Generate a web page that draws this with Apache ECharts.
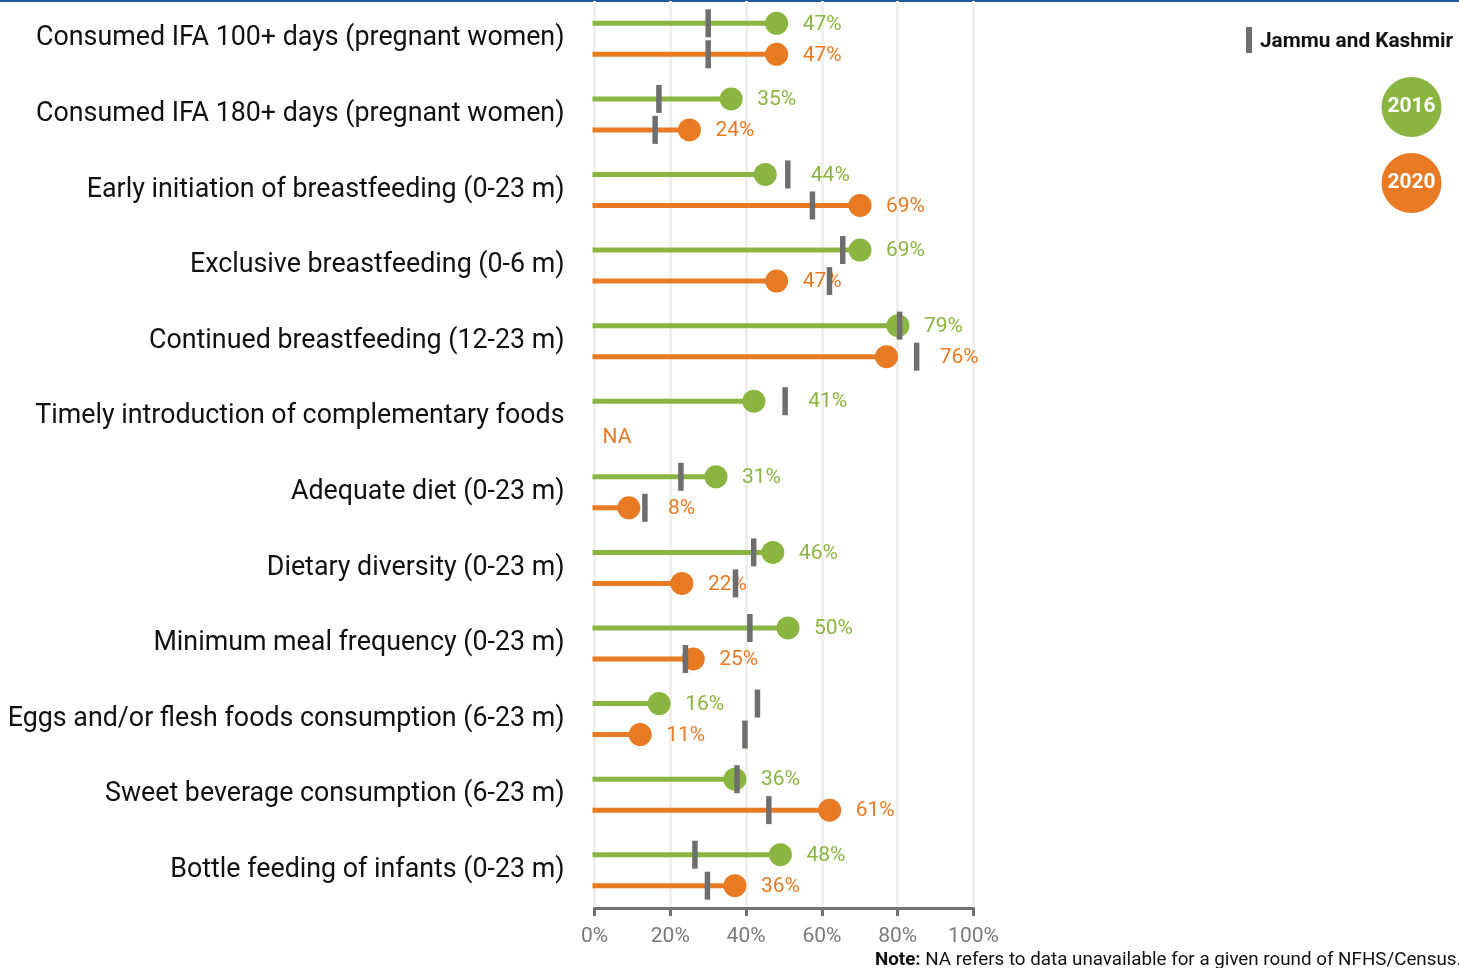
<!DOCTYPE html>
<html>
<head>
<meta charset="utf-8">
<script src="https://cdn.jsdelivr.net/npm/echarts@6/dist/echarts.min.js"></script>
<style>
  html, body { margin: 0; padding: 0; background: #fff; }
  #chart { width: 1459px; height: 968px; }
</style>
</head>
<body>
<div id="chart"></div>
<script>
const categories = [
  'Consumed IFA 100+ days (pregnant women)',
  'Consumed IFA 180+ days (pregnant women)',
  'Early initiation of breastfeeding (0-23 m)',
  'Exclusive breastfeeding (0-6 m)',
  'Continued breastfeeding (12-23 m)',
  'Timely introduction of complementary foods',
  'Adequate diet (0-23 m)',
  'Dietary diversity (0-23 m)',
  'Minimum meal frequency (0-23 m)',
  'Eggs and/or flesh foods consumption (6-23 m)',
  'Sweet beverage consumption (6-23 m)',
  'Bottle feeding of infants (0-23 m)'
]
const values2016 = [47, 35, 44, 69, 79, 41, 31, 46, 50, 16, 36, 48]
const values2020 = [47, 24, 69, 47, 76, null, 8, 22, 25, 11, 61, 36]
// Jammu and Kashmir markers
const state2016 = [30, 17, 51, 65.5, 80.5, 50.3, 22.8, 42, 41, 43, 37.6, 26.5]
const state2020 = [30, 16, 57.5, 62, 85, null, 13.3, 37.2, 24, 39.7, 46, 29.8]

const GREEN = '#8ab540'
const ORANGE = '#e87a24'
const GREY = '#6e6e6e'
const FONT = 'Roboto'
const DOT_SHIFT = 4 // circles sit a little right of the value in the original

function toData(arr) {
  return arr.map((v, i) => [v == null ? NaN : v, i])
}

function lollipop(color, dy, state) {
  return function (params, api) {
    const cat = api.value(1)
    const v = api.value(0)
    const base = api.coord([0, cat])
    if (isNaN(v)) {
      return {
        type: 'text',
        style: {
          x: base[0] + 8, y: base[1] + dy + 6, text: 'NA',
          fill: color, font: '21px ' + FONT,
          textAlign: 'left', textVerticalAlign: 'middle'
        }
      }
    }
    const p = api.coord([v, cat])
    const y = p[1] + dy
    const cx = p[0] + DOT_SHIFT
    // label goes past the state marker when the marker sits just right of the dot
    let lx = cx + 26
    const s = state[params.dataIndex]
    if (s != null) {
      const mx = api.coord([s, cat])[0]
      if (mx - cx > -5 && mx - cx < 40) lx = Math.max(lx, mx + 23)
    }
    return {
      type: 'group',
      children: [
        { type: 'rect', shape: { x: base[0] - 2, y: y - 2.5, width: cx - base[0] + 2, height: 5 }, style: { fill: color } },
        { type: 'circle', shape: { cx: cx, cy: y, r: 11.5 }, style: { fill: color } },
        {
          type: 'text',
          style: {
            x: lx, y: y + 1, text: v + '%',
            fill: color, font: '21px ' + FONT,
            textAlign: 'left', textVerticalAlign: 'middle'
          }
        }
      ]
    }
  }
}

function marker(dy) {
  return function (params, api) {
    const v = api.value(0)
    if (isNaN(v)) return null
    const p = api.coord([v, api.value(1)])
    return {
      type: 'rect',
      shape: { x: p[0] - 2.75, y: p[1] + dy - 14, width: 5.5, height: 28 },
      style: { fill: GREY }
    }
  }
}

const chart = echarts.init(document.getElementById('chart'))

chart.setOption({
  animation: false,
  grid: { left: 594.5, right: 485.5, top: 1, bottom: 60, containLabel: false },
  xAxis: {
    type: 'value',
    min: 0,
    max: 100,
    interval: 20,
    axisLine: { show: true, lineStyle: { color: '#707070', width: 3 } },
    axisTick: { show: true, length: 8, lineStyle: { color: '#707070', width: 3 } },
    axisLabel: { formatter: '{value}%', color: '#7a7a7a', fontSize: 21, fontFamily: FONT, margin: 18 },
    splitLine: { show: true, lineStyle: { color: '#f0efeb', width: 3 } }
  },
  yAxis: {
    type: 'category',
    inverse: true,
    data: categories,
    axisLine: { show: false },
    axisTick: { show: false },
    axisLabel: { color: '#111', fontSize: 26.8, fontFamily: FONT, margin: 30, padding: [6, 0, 0, 0] }
  },
  series: [
    { type: 'custom', name: '2016', data: toData(values2016), encode: { x: 0, y: 1 }, renderItem: lollipop(GREEN, -15.5, state2016), z: 2 },
    { type: 'custom', name: '2020', data: toData(values2020), encode: { x: 0, y: 1 }, renderItem: lollipop(ORANGE, 15.5, state2020), z: 2 },
    { type: 'custom', name: 'JK 2016', data: toData(state2016), encode: { x: 0, y: 1 }, renderItem: marker(-15.5), z: 3 },
    { type: 'custom', name: 'JK 2020', data: toData(state2020), encode: { x: 0, y: 1 }, renderItem: marker(15.5), z: 3 }
  ],
  graphic: [
    { type: 'rect', left: 0, top: 0, shape: { width: 1459, height: 2 }, style: { fill: '#1d5c98' } },
    { type: 'rect', left: 1246, top: 27, shape: { width: 6, height: 26 }, style: { fill: GREY } },
    {
      type: 'text', x: 1260, y: 42,
      style: { text: 'Jammu and Kashmir', fill: '#111', font: 'bold 20.8px ' + FONT, textVerticalAlign: 'middle' }
    },
    { type: 'circle', shape: { cx: 1411.5, cy: 107, r: 30 }, style: { fill: GREEN } },
    {
      type: 'text', x: 1411.5, y: 107,
      style: { text: '2016', fill: '#fff', font: 'bold 21px ' + FONT, textAlign: 'center', textVerticalAlign: 'middle' }
    },
    { type: 'circle', shape: { cx: 1411.5, cy: 183, r: 30 }, style: { fill: ORANGE } },
    {
      type: 'text', x: 1411.5, y: 183,
      style: { text: '2020', fill: '#fff', font: 'bold 21px ' + FONT, textAlign: 'center', textVerticalAlign: 'middle' }
    },
    {
      type: 'text', x: 875, y: 960,
      style: {
        text: '{b|Note:} NA refers to data unavailable for a given round of NFHS/Census.',
        rich: {
          b: { fontWeight: 'bold', fontSize: 18.8, fontFamily: FONT, fill: '#111' }
        },
        fill: '#111', font: '18.8px ' + FONT, textVerticalAlign: 'middle'
      }
    }
  ]
})
</script>
</body>
</html>
